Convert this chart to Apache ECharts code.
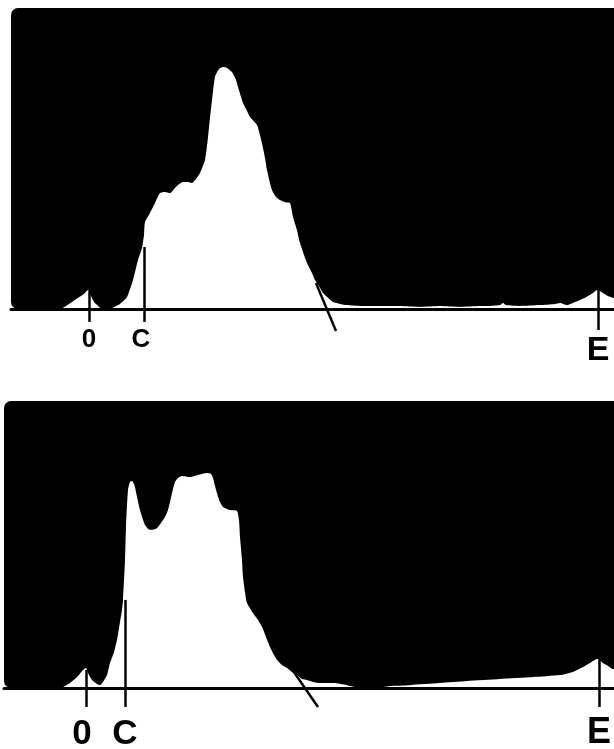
<!DOCTYPE html>
<html>
<head>
<meta charset="utf-8">
<script src="https://cdn.jsdelivr.net/npm/echarts@6/dist/echarts.min.js"></script>
<style>
  html, body { margin: 0; padding: 0; background: #fff; }
  #chart { width: 614px; height: 749px; }
</style>
</head>
<body>
<div id="chart"></div>
<script>
// Densitometer scan, upper trace: position along the strip and relative density (0-100)
const upperPos = [0, 49, 55, 61, 67, 73, 77, 80, 83, 87,
  91, 99, 103, 109, 116, 122, 127, 131, 133, 134,
  139, 144, 149, 154, 159, 164, 167, 172, 177, 181,
  185, 189, 194, 197, 199, 201, 204, 208, 212, 216,
  221, 225, 227, 232, 236, 239, 246, 251, 254, 256,
  261, 265, 269, 274, 279, 282, 286, 289, 296, 301,
  304, 309, 312, 317, 322, 329, 336, 349, 369, 389,
  409, 429, 449, 469, 479, 489, 492, 495, 509, 529,
  544, 549, 556, 564, 569, 574, 579, 583, 586, 589,
  592, 597, 602, 609, 622];
const upperDensity = [0, 0, 1.0, 2.3, 3.7, 5.0, 6.3, 4.3, 2.3, 1.0,
  0, 0, 0.7, 1.7, 4.0, 9.6, 16.3, 20.3, 24.6, 28.9,
  31.9, 35.2, 38.5, 38.9, 38.5, 40.2, 41.2, 42.2, 42.2, 41.9,
  43.2, 45.2, 49.5, 57.1, 63.5, 69.4, 77.1, 79.7, 80.4, 80.1,
  78.7, 76.1, 73.8, 68.4, 65.8, 63.8, 61.1, 55.1, 50.2, 46.2,
  39.5, 37.2, 36.2, 35.5, 35.2, 30.6, 26.2, 21.9, 15.3, 12.0,
  9.6, 7.0, 5.3, 3.7, 2.3, 1.7, 1.3, 1.0, 1.0, 1.0,
  0.7, 1.0, 0.7, 1.0, 1.0, 1.3, 2.0, 1.3, 1.0, 1.3,
  1.7, 2.0, 1.3, 2.3, 3.0, 3.7, 4.7, 5.6, 6.3, 6.0,
  5.3, 4.3, 3.7, 3.0, 2.3];

// Lower trace
const lowerPos = [0, 58, 59, 66, 73, 79, 82, 85, 88, 93,
  96, 99, 103, 106, 110, 113, 116, 118, 119, 121,
  122, 124, 126, 128, 130, 131, 133, 136, 141, 146,
  153, 159, 162, 164, 166, 168, 171, 174, 178, 186,
  194, 203, 207, 209, 211, 213, 216, 219, 226, 233,
  235, 236, 238, 239, 241, 243, 249, 254, 258, 262,
  266, 270, 273, 278, 283, 288, 293, 298, 303, 309,
  316, 329, 343, 356, 372, 386, 406, 436, 463, 496,
  529, 556, 569, 579, 586, 591, 594, 599, 604, 609,
  629];
const lowerDensity = [0, 0, 0.3, 1.7, 3.8, 6.3, 7.0, 4.5, 2.8, 1.4,
  1.0, 2.1, 4.5, 8.7, 12.5, 16.7, 23.0, 27.2, 30.7, 44.6,
  56.1, 69.0, 71.8, 72.1, 71.1, 70.0, 66.6, 62.0, 56.8, 55.1,
  55.7, 58.5, 60.3, 62.0, 64.8, 67.9, 71.8, 73.2, 73.9, 73.5,
  74.2, 74.9, 74.6, 73.2, 70.4, 67.9, 64.8, 63.1, 62.0, 61.7,
  58.5, 52.6, 44.6, 38.7, 33.4, 29.6, 26.1, 23.7, 21.3, 17.8,
  14.3, 11.5, 9.8, 8.0, 7.0, 5.6, 4.5, 3.1, 2.8, 2.1,
  1.7, 1.7, 1.0, 0, 0, 0.7, 1.0, 1.7, 2.4, 3.1,
  3.8, 4.5, 5.6, 7.3, 8.7, 9.8, 10.1, 8.7, 7.7, 6.6,
  5.5];

// Reference marks along each strip: name, position, top and foot of the tick
const upperMarkNames = ['0', 'C', 'E'];
const upperMarkPos = [78, 133, 587];
const upperMarkTop = [6.0, 20.6, 6.3];
const upperMarkFoot = [-4.3, -4.3, -7.0];
const upperCut = [[305, 8.6], [325, -7.3]];

const lowerMarkNames = ['0', 'C', 'E'];
const lowerMarkPos = [82, 121, 595];
const lowerMarkTop = [6.3, 30.7, 10.5];
const lowerMarkFoot = [-6.6, -6.6, -6.6];
const lowerCut = [[287, 7.0], [314, -6.6]];

// Visible length of each strip
const upperView = 603;
const lowerView = 610;

const Y_MIN = -12, Y_MAX = 100;

const chart = echarts.init(document.getElementById('chart'), null, { renderer: 'canvas' });

function zip(xs, ys) { return xs.map((x, i) => [x, ys[i]]); }

function markData(names, pos, tops, foots, cut, fontSizes, dist, shifts) {
  const out = names.map((n, i) => {
    const lab = {
      show: true, position: 'end', distance: dist[i], fontSize: fontSizes[i],
      offset: [shifts[i], 0], formatter: n
    };
    return [
      { name: n, coord: [pos[i], tops[i]], label: lab },
      { name: n, coord: [pos[i], foots[i]], label: lab }
    ];
  });
  out.push([
    { coord: cut[0], label: { show: false } },
    { coord: cut[1], label: { show: false } }
  ]);
  return out;
}

function traceSeries(idx, xs, ys, marks) {
  return {
    type: 'line',
    xAxisIndex: idx,
    yAxisIndex: idx,
    data: zip(xs, ys),
    smooth: 0.2,
    symbol: 'none',
    showSymbol: false,
    clip: false,
    silent: true,
    animation: false,
    lineStyle: { width: 0 },
    areaStyle: { color: '#ffffff', opacity: 1, origin: 'auto' },
    markLine: {
      silent: true,
      animation: false,
      symbol: ['none', 'none'],
      lineStyle: { color: '#000', width: 2.5, type: 'solid' },
      label: {
        show: true,
        color: '#000',
        fontFamily: 'Liberation Sans',
        fontWeight: 'bold'
      },
      emphasis: { disabled: true },
      data: marks
    }
  };
}

function hiddenY() {
  return {
    type: 'value', min: Y_MIN, max: Y_MAX,
    axisLine: { show: false }, axisTick: { show: false },
    axisLabel: { show: false }, splitLine: { show: false }
  };
}
function baseX(idx, maxV) {
  return {
    type: 'value', gridIndex: idx, min: 0, max: maxV, z: 3,
    axisLine: { show: true, onZero: true, lineStyle: { color: '#000', width: 3 } },
    axisTick: { show: false }, axisLabel: { show: false }, splitLine: { show: false }
  };
}

chart.setOption({
  backgroundColor: '#ffffff',
  animation: false,
  grid: [
    { left: 11, top: 8, right: 0, height: 301 * (Y_MAX - Y_MIN) / 100 },
    { left: 4, top: 401, right: 0, height: 287 * (Y_MAX - Y_MIN) / 100 }
  ],
  xAxis: [baseX(0, upperView), baseX(1, lowerView)],
  yAxis: [Object.assign(hiddenY(), { gridIndex: 0 }), Object.assign(hiddenY(), { gridIndex: 1 })],
  series: [
    traceSeries(0, upperPos, upperDensity,
      markData(upperMarkNames, upperMarkPos, upperMarkTop, upperMarkFoot, upperCut,
        [26, 26, 34], [5, 5, 4], [0, -3, 0])),
    traceSeries(1, lowerPos, lowerDensity,
      markData(lowerMarkNames, lowerMarkPos, lowerMarkTop, lowerMarkFoot, lowerCut,
        [35, 35, 36], [10, 10, 8], [-4, 0, 0]))
  ]
});

// Dark field of each scan: spans the full strip from zero density to the top of the scale
function fieldRect(gridIndex, xMax) {
  const a = chart.convertToPixel({ gridIndex: gridIndex }, [0, Y_MAX]);
  const b = chart.convertToPixel({ gridIndex: gridIndex }, [xMax, 0]);
  return {
    type: 'rect',
    z: -5,
    silent: true,
    shape: { x: a[0], y: a[1], width: b[0] - a[0] + 10, height: b[1] - a[1], r: [7, 0, 0, 7] },
    style: { fill: '#000' }
  };
}
chart.setOption({ graphic: [fieldRect(0, upperView), fieldRect(1, lowerView)] });
</script>
</body>
</html>
